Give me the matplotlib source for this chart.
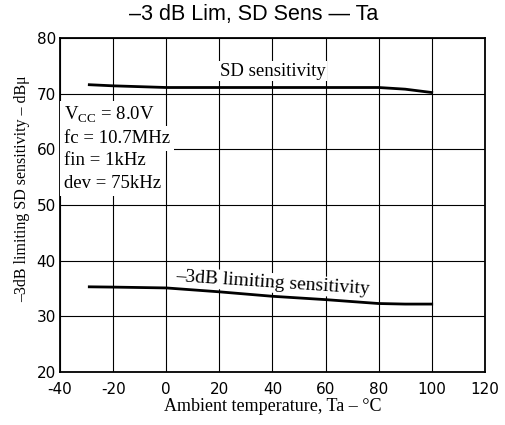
import matplotlib
matplotlib.use("Agg")
from matplotlib import pyplot as plt

# data
temps = [-29, -20, 0, 20, 40, 60, 80, 90, 100]
sd_sens = [71.6, 71.4, 71.1, 71.1, 71.1, 71.1, 71.1, 70.8, 70.2]
lim_sens = [35.3, 35.25, 35.1, 34.4, 33.6, 33.0, 32.3, 32.2, 32.2]

x_ticks = [-40, -20, 0, 20, 40, 60, 80, 100, 120]
y_ticks = [20, 30, 40, 50, 60, 70, 80]

conditions = ["V$_{\\mathregular{CC}}$ = 8.0V", "fc = 10.7MHz", "fin = 1kHz", "dev = 75kHz"]

serif = "Liberation Serif"

fig = plt.figure(figsize=(5.05, 4.25), dpi=100)
ax = fig.add_axes([0.119, 0.1247, 0.841, 0.786])

ax.plot(temps, sd_sens, color="black", lw=2.0)
ax.plot(temps, lim_sens, color="black", lw=2.0)

ax.set_xlim(-40, 120)
ax.set_ylim(20, 80)
ax.set_xticks(x_ticks)
ax.set_yticks(y_ticks)
ax.set_xticklabels([str(t) for t in x_ticks], fontsize=11, family="DejaVu Sans")
ax.set_yticklabels([str(t) for t in y_ticks], fontsize=11, family="DejaVu Sans")
ax.tick_params(axis="x", length=0, pad=7)
ax.tick_params(axis="y", length=0, pad=3)
ax.grid(True, color="black", lw=0.8)
for s in ax.spines.values():
    s.set_linewidth(1.3)

ax.set_xlabel("Ambient temperature, Ta – °C", family=serif, fontsize=13, labelpad=1)
ax.set_ylabel("–3dB limiting SD sensitivity – dBμ", family=serif, fontsize=11.5)
ax.yaxis.set_label_coords(-0.07, 0.55)
fig.suptitle("–3 dB Lim, SD Sens — Ta", x=0.503, y=0.99, fontsize=15.5,
             family="Liberation Sans")

ax.text(40, 72.5, "SD sensitivity", family=serif, fontsize=13.5, ha="center",
        va="bottom", bbox=dict(facecolor="white", edgecolor="none", pad=1))
ax.text(40, 36.0, "–3dB limiting sensitivity", family=serif, fontsize=14,
        ha="center", va="center", rotation=-3.8,
        bbox=dict(facecolor="white", edgecolor="none", pad=1))

for i, line in enumerate(conditions):
    ax.text(-38.5, 66.1 - i * 4.1, line, family=serif, fontsize=13.5, ha="left",
            va="center", bbox=dict(facecolor="white", edgecolor="none", pad=3))

fig.savefig("out.png", dpi=100)
